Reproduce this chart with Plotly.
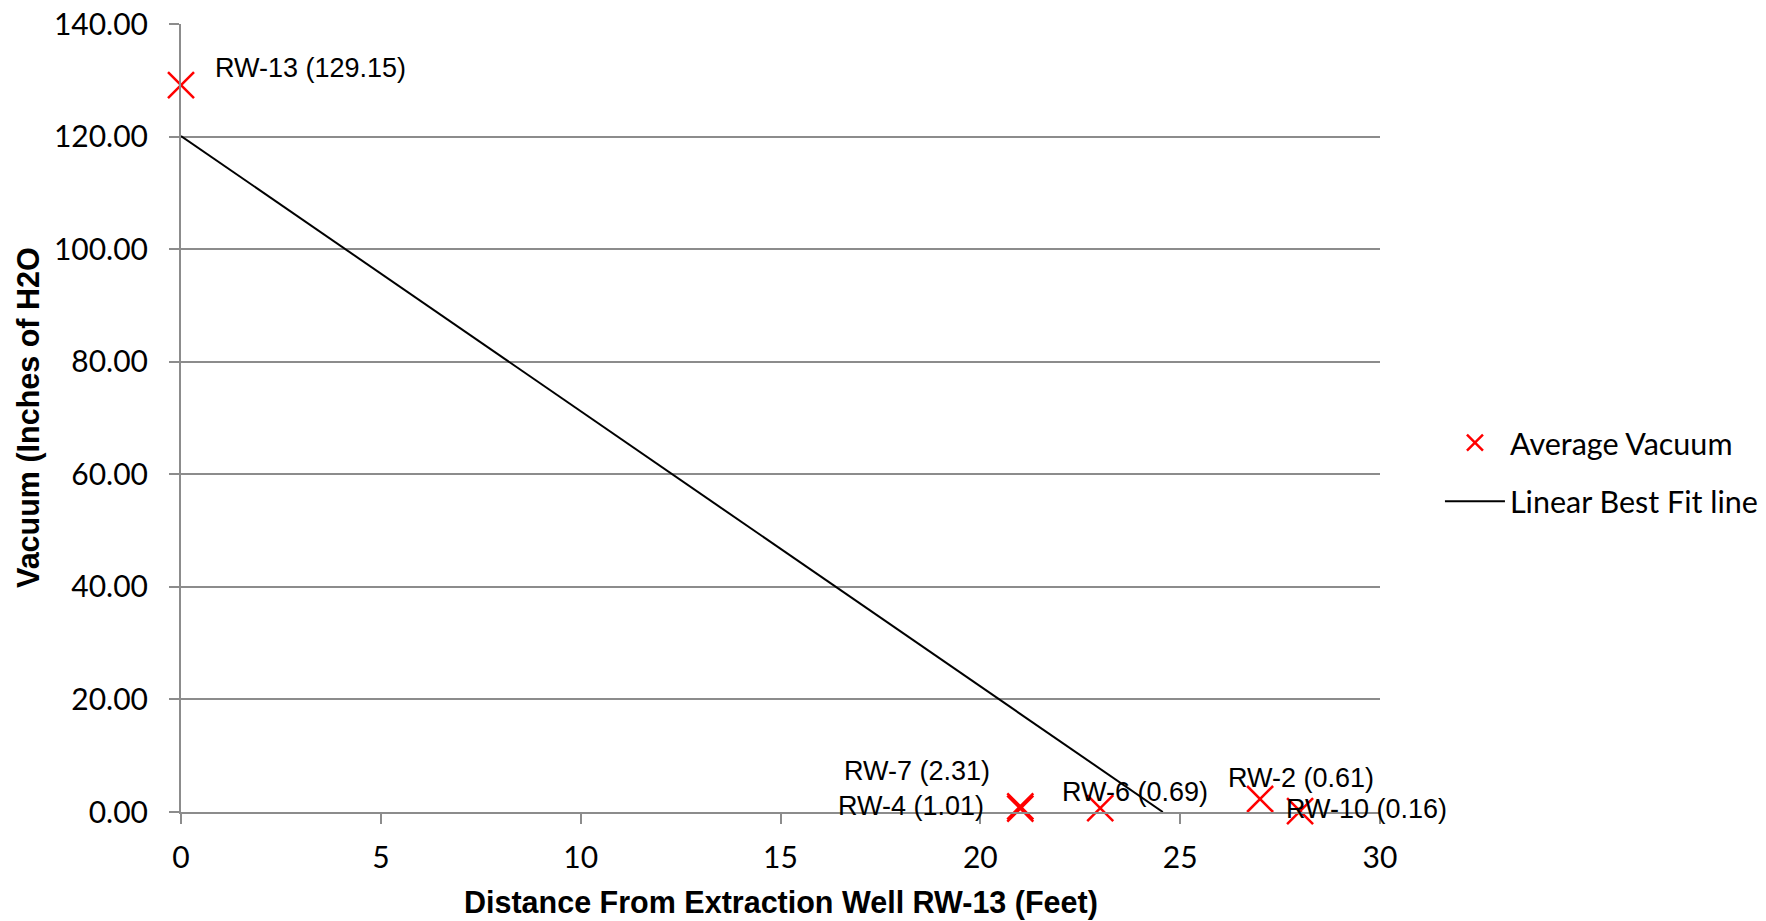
import numpy as np
import plotly.graph_objects as go

# ---- data ----
wells = ["RW-13", "RW-7", "RW-4", "RW-6", "RW-2", "RW-10"]
distance_ft = [0, 27, 21, 23, 21, 28]
vacuum_inh2o = [129.15, 2.31, 1.01, 0.69, 0.61, 0.16]

x_ticks = [0, 5, 10, 15, 20, 25, 30]
y_ticks = [0, 20, 40, 60, 80, 100, 120, 140]

# label placement (data-unit anchors for the text labels, as moved in the original)
label_anchor_x = [0.8, 20.3, 20.15, 22.0, 26.15, 27.6]
label_anchor_y = [132.2, 7.3, 1.0, 3.6, 6.0, 0.5]
label_xanchor = ["left", "right", "right", "left", "left", "left"]

# linear best fit of the measurements
slope, intercept = np.polyfit(distance_ft, vacuum_inh2o, 1)
x_zero = -intercept / slope
fit_x = [0, x_zero]
fit_y = [intercept, 0]

fig = go.Figure()
fig.add_trace(go.Scatter(
    x=distance_ft, y=vacuum_inh2o, mode="markers", name="Average Vacuum",
    legendgroup="a",
    marker=dict(symbol="x-thin", size=26, color="#ff0000",
                line=dict(color="#ff0000", width=2.5)),
    cliponaxis=False,
))
fig.add_trace(go.Scatter(
    x=fit_x, y=fit_y, mode="lines", name="Linear Best Fit line",
    legendgroup="b",
    line=dict(color="#000000", width=2),
))

for w, v, lx, ly, xa in zip(wells, vacuum_inh2o, label_anchor_x, label_anchor_y, label_xanchor):
    fig.add_annotation(
        x=lx, y=ly, xref="x", yref="y", text=f"{w} ({v:.2f})",
        showarrow=False, xanchor=xa, yanchor="middle",
        font=dict(family="Liberation Sans, Arial", size=27, color="#000000"),
    )

fig.add_annotation(
    x=0.5, y=-0.115, xref="paper", yref="paper",
    text="<b>Distance From Extraction Well RW-13 (Feet)</b>",
    showarrow=False, xanchor="center", yanchor="middle",
    font=dict(family="Liberation Sans, Arial", size=30.5, color="#000000"),
)
fig.add_annotation(
    x=-153 / 1199, y=0.5, xref="paper", yref="paper",
    text="<b>Vacuum (Inches of H2O</b>", textangle=-90,
    showarrow=False, xanchor="center", yanchor="middle",
    font=dict(family="Liberation Sans, Arial", size=30.5, color="#000000"),
)

grid = "#8c8c8c"
fig.update_layout(
    width=1766, height=921,
    margin=dict(l=181, r=386, t=24, b=109, autoexpand=False),
    paper_bgcolor="white", plot_bgcolor="white",
    showlegend=True,
    legend=dict(
        x=1.05, xanchor="left", y=0.431, yanchor="middle",
        font=dict(family="Lato", size=30.5, color="#000000"),
        traceorder="grouped", tracegroupgap=16,
        itemwidth=60,
        bgcolor="rgba(0,0,0,0)",
    ),
    xaxis=dict(
        range=[0, 30], tickvals=x_ticks, ticktext=[str(t) for t in x_ticks],
        showgrid=False, zeroline=False, automargin=False,
        showline=True, linecolor=grid, linewidth=2,
        ticks="outside", ticklen=10, tickcolor=grid, tickwidth=2,
        tickfont=dict(family="Lato", size=30, color="#000000"),
        ticklabelstandoff=8,
    ),
    yaxis=dict(
        range=[0, 140], tickvals=y_ticks, ticktext=[f"{t:.2f}" for t in y_ticks],
        showgrid=True, gridcolor=grid, gridwidth=2,
        zeroline=False, automargin=False,
        showline=True, linecolor=grid, linewidth=2,
        ticks="outside", ticklen=10, tickcolor=grid, tickwidth=2,
        tickfont=dict(family="Lato", size=30, color="#000000"),
        ticklabelstandoff=15,
    ),
)

fig.write_html("out.html", config={"displayModeBar": False},
               post_script="document.body.style.margin='0';")
